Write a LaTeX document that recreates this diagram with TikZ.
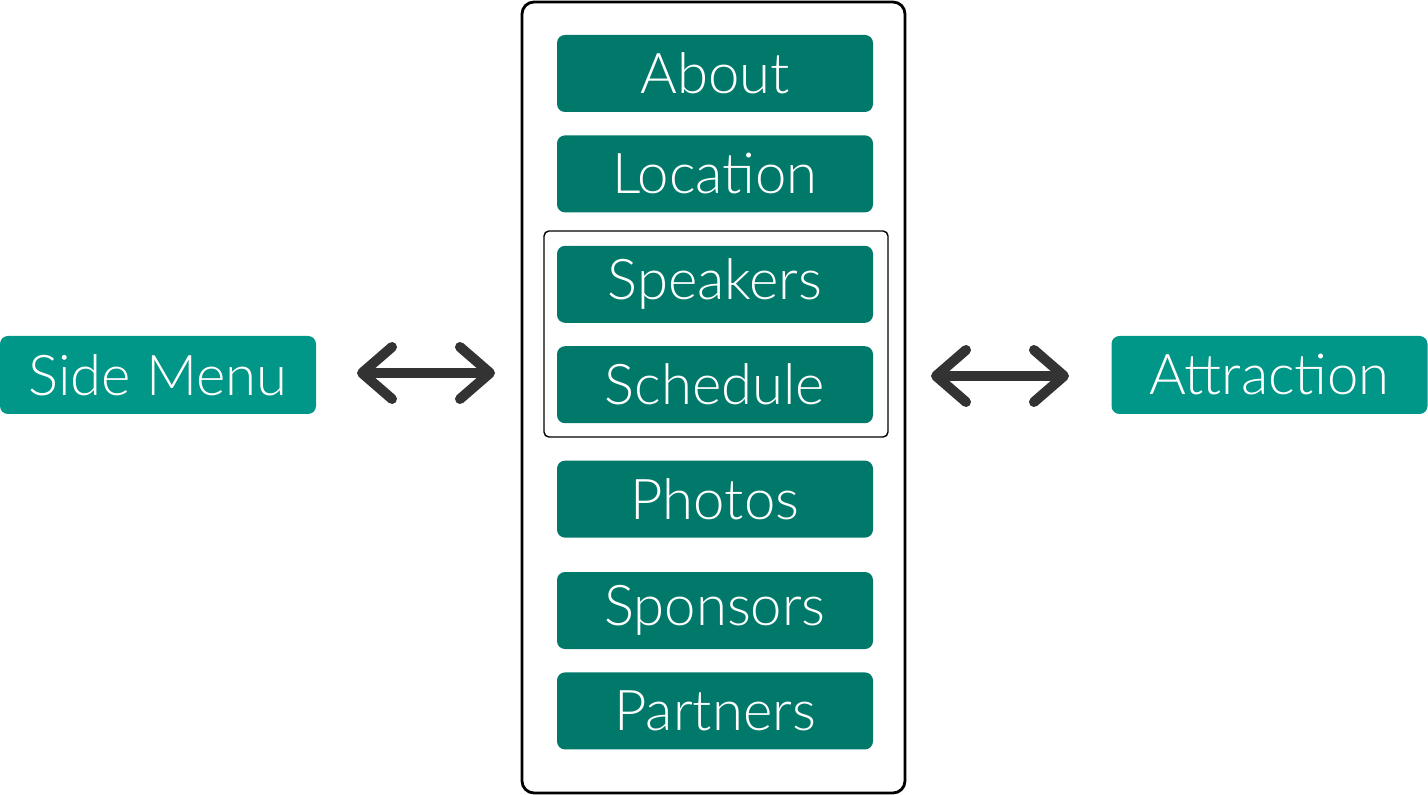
\documentclass[tikz,border=0pt]{standalone}
\usepackage{fontspec}
\setmainfont{Lato Light}
\usetikzlibrary{positioning}
\usetikzlibrary{arrows.meta}
\definecolor{menuteal}{RGB}{0,121,107}
\definecolor{sideteal}{RGB}{0,150,136}
\definecolor{arrowgray}{RGB}{51,51,51}
\tikzset{
	item/.style={rectangle, rounded corners=0.08cm, fill=menuteal, text=white, minimum width=3.16cm, minimum height=0.77cm, inner sep=0pt, font=\fontsize{16}{18}\selectfont},
	side/.style={rectangle, rounded corners=0.08cm, fill=sideteal, text=white, minimum width=3.16cm, minimum height=0.78cm, inner sep=0pt, font=\fontsize{16}{18}\selectfont},
	% double arrows between the panels
	link/.style={line width=0.1cm, arrowgray, {Straight Barb[round, length=0.3cm, width=0.52cm]}-{Straight Barb[round, length=0.3cm, width=0.52cm]}},
}

\begin{document}
\begin{tikzpicture}
	\useasboundingbox (0,0) rectangle (14.28,-7.95);
	
	\node (panel) [draw, thick, rounded corners=0.12cm, minimum width=3.83cm, minimum height=7.91cm, inner sep=0pt] at (7.135,-3.975) {};
	
	\node (about) [item] at (7.15,-0.735) {About};
	\node (location) [item, below=0.22cm of about] {Location};
	\node (speakers) [item, below=0.32cm of location] {Speakers};
	\node (schedule) [item, below=0.22cm of speakers] {Schedule};
	\node (photos) [item, below=0.36cm of schedule] {Photos};
	\node (sponsors) [item, below=0.33cm of photos] {Sponsors};
	\node (partners) [item, below=0.22cm of sponsors] {Partners};
	
	\node (group) [draw, rounded corners=0.05cm, minimum width=3.44cm, minimum height=2.06cm, inner sep=0pt] at (7.16,-3.34) {};
	
	\node (sidemenu) [side] at (1.58,-3.75) {Side Menu};
	\node (attraction) [side] at (12.695,-3.75) {Attraction};
	
	\coordinate (l1) at (3.57,-3.73);
	\coordinate (l2) at (4.95,-3.73);
	\coordinate (r1) at (9.31,-3.76);
	\coordinate (r2) at (10.69,-3.76);
	
	\begin{scope}[link]
		\draw (l1) -- (l2);
		\draw (r1) -- (r2);
	\end{scope}
\end{tikzpicture}
\end{document}
